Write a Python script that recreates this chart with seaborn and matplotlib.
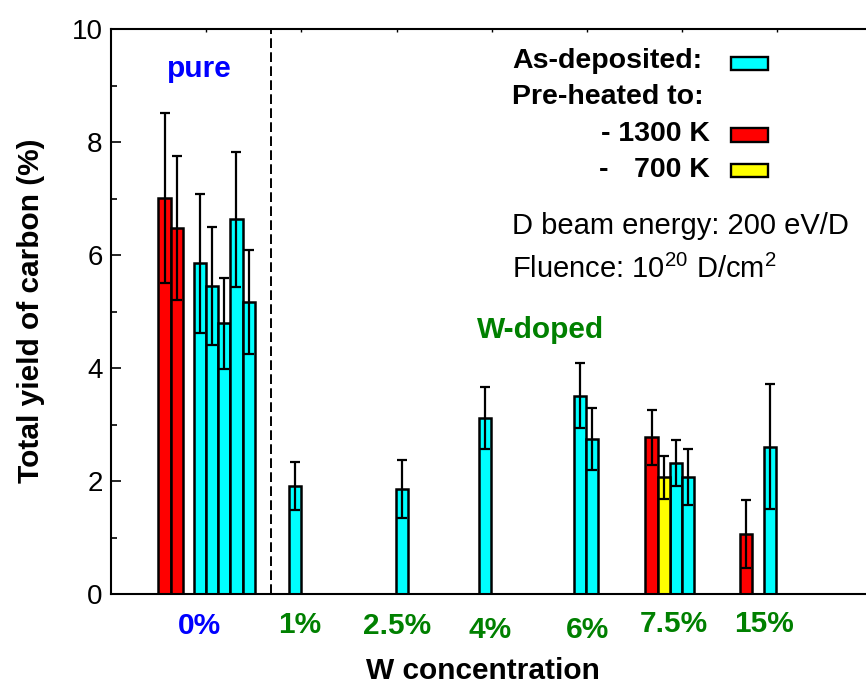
import matplotlib
matplotlib.use("Agg")
import matplotlib.pyplot as plt
import matplotlib.transforms as mtransforms
from matplotlib.patches import Rectangle
from matplotlib.ticker import MultipleLocator
import seaborn as sns
import pandas as pd

# ---------------- data ----------------
groups = ["0%", "1%", "2.5%", "4%", "6%", "7.5%", "15%"]
group_label_colors = ["#0000FF", "#008000", "#008000", "#008000", "#008000", "#008000", "#008000"]

bar_group = ["0%", "0%", "0%", "0%", "0%", "0%", "0%",
             "1%", "2.5%", "4%", "6%", "6%",
             "7.5%", "7.5%", "7.5%", "7.5%", "15%", "15%"]
bar_pos = [0.562, 0.690, 0.934, 1.062, 1.190, 1.318, 1.446,
           1.933, 3.053, 3.932, 4.925, 5.053,
           5.678, 5.806, 5.934, 6.062, 6.673, 6.925]
treatment = ["1300 K", "1300 K", "as-deposited", "as-deposited", "as-deposited",
             "as-deposited", "as-deposited",
             "as-deposited", "as-deposited", "as-deposited", "as-deposited", "as-deposited",
             "1300 K", "700 K", "as-deposited", "as-deposited", "1300 K", "as-deposited"]
yield_pct = [7.01, 6.48, 5.85, 5.45, 4.79, 6.63, 5.16,
             1.91, 1.86, 3.11, 3.51, 2.74,
             2.77, 2.07, 2.32, 2.07, 1.06, 2.61]
yield_err = [1.50, 1.27, 1.23, 1.04, 0.80, 1.20, 0.92,
             0.42, 0.52, 0.55, 0.57, 0.55,
             0.48, 0.38, 0.40, 0.49, 0.60, 1.10]

treat_colors = {"as-deposited": "#00FFFF", "1300 K": "#FF0000", "700 K": "#FFFF00"}

# ---------------- layout (pixels of the 866x686 canvas) ----------------
W, H = 866, 686
ax_left, ax_right, ax_top, ax_bottom = 111, 866, 29, 594
x_max = 7.93
divider_x = 1.681
label_x = [0.924, 1.980, 3.004, 3.977, 5.002, 5.914, 6.859]
label_baseline = [634, 633, 633.5, 638, 637.5, 632, 632]

sns.set_style("ticks")
plt.rcParams["font.family"] = ["Liberation Sans", "DejaVu Sans"]
plt.rcParams["mathtext.fontset"] = "custom"
plt.rcParams["mathtext.rm"] = "Liberation Sans"
plt.rcParams["mathtext.default"] = "regular"
plt.rcParams["text.color"] = "black"
plt.rcParams["axes.labelcolor"] = "black"
plt.rcParams["xtick.color"] = "black"
plt.rcParams["ytick.color"] = "black"
plt.rcParams["axes.edgecolor"] = "black"

fig = plt.figure(figsize=(W / 100, H / 100), dpi=100)
ax = fig.add_axes([ax_left / W, 1 - ax_bottom / H,
                   (ax_right - ax_left) / W, (ax_bottom - ax_top) / H])

df = pd.DataFrame({"pos": bar_pos, "yield": yield_pct, "err": yield_err,
                   "treatment": treatment, "group": bar_group})

sns.barplot(data=df, x="pos", y="yield", hue="treatment", palette=treat_colors,
            native_scale=True, dodge=False, width=1.0, errorbar=None, saturation=1,
            edgecolor="black", linewidth=1.8, legend=False, ax=ax, zorder=2)

ax.errorbar(df["pos"], df["yield"], yerr=df["err"], fmt="none", ecolor="black",
            elinewidth=1.6, capsize=3.3, capthick=1.6, zorder=3)

ax.axvline(divider_x, color="black", lw=1.4, ls=(0, (5, 2.2)), zorder=1)

ax.set_xlim(0, x_max)
ax.set_ylim(0, 10)
ax.set_xlabel("")
ax.set_ylabel("")

# axes styling
for side in ["left", "top", "bottom"]:
    ax.spines[side].set_linewidth(1.5)
    ax.spines[side].set_color("black")
ax.spines["right"].set_visible(False)

ax.yaxis.set_major_locator(MultipleLocator(2))
ax.yaxis.set_minor_locator(MultipleLocator(1))
ax.tick_params(axis="y", which="major", direction="in", length=7.2, width=1.2,
               labelsize=20, pad=6, right=False, colors="black")
ax.tick_params(axis="y", which="minor", direction="in", length=4.3, width=1.2,
               right=False, colors="black")

ax.xaxis.set_ticks_position("top")
ax.set_xticks(range(1, 8))
ax.set_xticklabels([])
ax.tick_params(axis="x", which="major", direction="in", length=2.5, width=1,
               top=True, bottom=False, labeltop=False, labelbottom=False, colors="black")

# category labels below the axis
blend = mtransforms.blended_transform_factory(ax.transData, fig.transFigure)
for g, xx, yb, c in zip(groups, label_x, label_baseline, group_label_colors):
    ax.text(xx, 1 - yb / H, g, transform=blend, ha="center", va="baseline",
            fontsize=21.5, fontweight="bold", color=c, clip_on=False)

def ftext(x, y, s, **kw):
    fig.text(x / W, 1 - y / H, s, **kw)

ftext(483, 679, "W concentration", ha="center", va="baseline",
      fontsize=21.5, fontweight="bold")
ftext(31, 311, "Total yield of carbon (%)", ha="center", va="center",
      rotation=90, fontsize=21.5, fontweight="bold")

ftext(199, 77, "pure", ha="center", va="baseline", fontsize=21.5,
      fontweight="bold", color="#0000FF")
ftext(541, 338, "W-doped", ha="center", va="baseline", fontsize=21.5,
      fontweight="bold", color="#008000")

# legend block
ftext(512, 67.7, "As-deposited:", ha="left", va="baseline", fontsize=20.5, fontweight="bold")
ftext(512, 104, "Pre-heated to:", ha="left", va="baseline", fontsize=20.5, fontweight="bold")
ftext(710, 140.7, "- 1300 K", ha="right", va="baseline", fontsize=20.5, fontweight="bold")
ftext(599, 176.7, "-", ha="left", va="baseline", fontsize=20.5, fontweight="bold")
ftext(710, 176.7, "700 K", ha="right", va="baseline", fontsize=20.5, fontweight="bold")

for key, ytop in [("as-deposited", 56.7), ("1300 K", 128.3), ("700 K", 164.0)]:
    fig.add_artist(Rectangle((730.7 / W, 1 - (ytop + 13.3) / H), 37.6 / W, 13.3 / H,
                             transform=fig.transFigure, facecolor=treat_colors[key],
                             edgecolor="black", linewidth=1.7))

ftext(512, 234, "D beam energy: 200 eV/D", ha="left", va="baseline", fontsize=21)
ftext(512, 278, "Fluence: 10$^{20}$ D/cm$^{2}$", ha="left", va="baseline", fontsize=21)

fig.savefig("out.png", dpi=100)
